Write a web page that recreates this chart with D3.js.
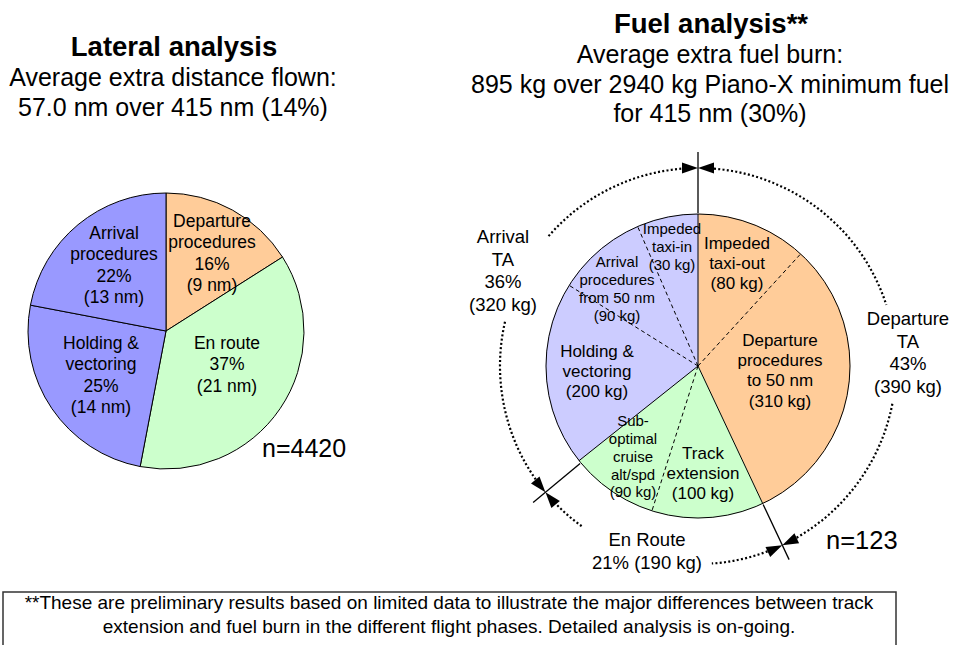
<!DOCTYPE html>
<html>
<head>
<meta charset="utf-8">
<script src="https://d3js.org/d3.v7.min.js"></script>
<style>
body { margin:0; background:#fff; }
svg { display:block; font-family:"Liberation Sans", Arial, sans-serif; }
</style>
</head>
<body>
<div id="chart"></div>
<script>
// ---- lateral analysis (extra distance flown) ----
var lateralNames = ["Departure\nprocedures", "En route", "Holding &\nvectoring", "Arrival\nprocedures"];
var lateralPct = [16, 37, 25, 22];
var lateralNm = [9, 21, 14, 13];
var lateralN = 4420;
var lateralTitle = "Lateral analysis";
var lateralSub = ["Average extra distance flown:", "57.0 nm over 415 nm (14%)"];

// ---- fuel analysis ----
var fuelNames = ["Impeded\ntaxi-out", "Departure\nprocedures\nto 50 nm", "Track\nextension",
    "Sub-\noptimal\ncruise\nalt/spd", "Holding &\nvectoring", "Arrival\nprocedures\nfrom 50 nm", "Impeded\ntaxi-in"];
var fuelKg = [80, 310, 100, 90, 200, 90, 30];
var fuelShare = [11.8, 31.2, 11.9, 9.4, 19.6, 9.6, 6.5]; // slice size as drawn
var fuelPhase = [0, 0, 1, 1, 2, 2, 2];
var phaseNames = ["Departure\nTA", "En Route", "Arrival\nTA"];
var phasePct = [43, 21, 36];
var phaseKg = [390, 190, 320];
var fuelN = 123;
var fuelTitle = "Fuel analysis**";
var fuelSub = ["Average extra fuel burn:", "895 kg over 2940 kg Piano-X minimum fuel", "for 415 nm (30%)"];

var footnote = ["**These are preliminary results based on limited data to illustrate the major differences between track",
    "extension and fuel burn in the different flight phases. Detailed analysis is on-going."];

// ---- layout ----
var W = 953, H = 645;
var lateralColors = ["#ffcc99", "#ccffcc", "#9999ff", "#9999ff"];
var phaseColors = ["#ffcc99", "#ccffcc", "#ccccff"];

var left = {cx:166, cy:331, r:138};
var right = {cx:698, cy:366, r:152, ring:198, tick0:153, tick1:214};

var lateralLabelPos = [[46, -104], [61, 18], [-65, 18], [-52, -92]];
var fuelLabelPos = [[39, -117], [82, -20], [5, 93], [-65, 60], [-101, -9], [-81, -99], [-26, -132]];
var fuelLabelSize = [17, 17, 17, 15, 17, 15, 15];
var phaseLabelPos = [[210, -41], [-51, 180], [-195, -123]];
var phaseGaps = [[72, 101], [176, 216], [283, 311]]; // degrees where the dotted ring is broken for labels

var svg = d3.select("#chart").append("svg")
    .attr("width", W)
    .attr("height", H);

function multiText(g, lines, x, y, size, spacing, weight) {
    var t = g.append("text")
        .attr("text-anchor", "middle")
        .style("font-size", size + "px")
        .style("font-weight", weight || "normal")
        .style("fill", "#000");
    lines.forEach(function(s, i) {
        t.append("tspan")
            .attr("x", x)
            .attr("y", y + i * spacing)
            .text(s);
    });
    return t;
}

// ---- titles ----
multiText(svg, [lateralTitle], 174, 56, 27.5, 30, "bold");
multiText(svg, lateralSub, 173, 86, 25, 30);
multiText(svg, [fuelTitle], 711, 33, 27.5, 30, "bold");
multiText(svg, fuelSub, 710, 63, 25, 29.7);

// ---- left pie ----
var pie = d3.pie().sort(null).value(function(d) { return d; });
var arcL = d3.arc().innerRadius(0).outerRadius(left.r);

var gL = svg.append("g")
    .attr("transform", "translate(" + left.cx + "," + left.cy + ")");

gL.selectAll("path")
    .data(pie(lateralPct))
    .enter().append("path")
    .attr("d", arcL)
    .style("fill", function(d, i) { return lateralColors[i]; })
    .style("stroke", "#000")
    .style("stroke-width", 1);

lateralNames.forEach(function(name, i) {
    var lines = name.split("\n").concat([lateralPct[i] + "%", "(" + lateralNm[i] + " nm)"]);
    multiText(gL, lines, lateralLabelPos[i][0], lateralLabelPos[i][1], 17.5, 21.3);
});

svg.append("text")
    .attr("x", 262)
    .attr("y", 457)
    .style("font-size", "25px")
    .text("n=" + lateralN);

// ---- right pie ----
var arcR = d3.arc().innerRadius(0).outerRadius(right.r);
var fuelArcs = pie(fuelShare);

var gR = svg.append("g")
    .attr("transform", "translate(" + right.cx + "," + right.cy + ")");

gR.selectAll("path.slice")
    .data(fuelArcs)
    .enter().append("path")
    .attr("class", "slice")
    .attr("d", arcR)
    .style("fill", function(d, i) { return phaseColors[fuelPhase[i]]; })
    .style("stroke", function(d, i) { return phaseColors[fuelPhase[i]]; })
    .style("stroke-width", 0.5);

function polar(a, r) {
    return [r * Math.sin(a), -r * Math.cos(a)];
}

// radial boundaries: solid between phases, dashed inside a phase
gR.selectAll("line.edge")
    .data(fuelArcs)
    .enter().append("line")
    .attr("class", "edge")
    .attr("x1", 0).attr("y1", 0)
    .attr("x2", function(d) { return polar(d.startAngle, right.r)[0]; })
    .attr("y2", function(d) { return polar(d.startAngle, right.r)[1]; })
    .style("stroke", "#000")
    .style("stroke-width", 1)
    .style("stroke-dasharray", function(d, i) {
        var prev = fuelPhase[(i + fuelPhase.length - 1) % fuelPhase.length];
        return prev === fuelPhase[i] ? "4,3" : null;
    });

gR.append("circle")
    .attr("r", right.r)
    .style("fill", "none")
    .style("stroke", "#000")
    .style("stroke-width", 1);

fuelNames.forEach(function(name, i) {
    var lines = name.split("\n").concat(["(" + fuelKg[i] + " kg)"]);
    var s = fuelLabelSize[i];
    multiText(gR, lines, fuelLabelPos[i][0], fuelLabelPos[i][1], s, s * 1.19);
});

// ---- phase ring: ticks, arrowheads, dotted arcs ----
var phaseArcs = pie(phasePct);
var rad = Math.PI / 180;
var arrowLen = 16, arrowHalf = 5.5;
var arrowDeg = arrowLen / right.ring / rad;

phaseArcs.forEach(function(p, i) {
    var a = p.startAngle;
    var t0 = polar(a, right.tick0), t1 = polar(a, right.tick1);
    gR.append("line")
        .attr("x1", t0[0]).attr("y1", t0[1])
        .attr("x2", t1[0]).attr("y2", t1[1])
        .style("stroke", "#000")
        .style("stroke-width", 1.3);

    // two arrowheads meeting on the tick
    [1, -1].forEach(function(dir) {
        var tip = polar(a, right.ring);
        var tx = Math.cos(a) * dir, ty = Math.sin(a) * dir;   // tangent
        var nx = Math.sin(a), ny = -Math.cos(a);               // radial
        var bx = tip[0] + tx * arrowLen, by = tip[1] + ty * arrowLen;
        var pts = [tip, [bx + nx * arrowHalf, by + ny * arrowHalf], [bx - nx * arrowHalf, by - ny * arrowHalf]];
        gR.append("path")
            .attr("d", "M" + pts.join("L") + "Z")
            .style("fill", "#000");
    });

    // dotted arc, broken where the label sits
    var a0 = p.startAngle / rad + arrowDeg, a1 = p.endAngle / rad - arrowDeg;
    var segs = [[a0, phaseGaps[i][0]], [phaseGaps[i][1], a1]];
    segs.forEach(function(s) {
        var path = d3.path();
        var st = polar(s[0] * rad, right.ring);
        path.moveTo(st[0], st[1]);
        path.arc(0, 0, right.ring, s[0] * rad - Math.PI / 2, s[1] * rad - Math.PI / 2);
        gR.append("path")
            .attr("d", path.toString())
            .style("fill", "none")
            .style("stroke", "#000")
            .style("stroke-width", 2.2)
            .style("stroke-dasharray", "2,2.3");
    });

    var lines = phaseNames[i].split("\n");
    if (lines.length > 1) {
        lines = lines.concat([phasePct[i] + "%", "(" + phaseKg[i] + " kg)"]);
    } else {
        lines = lines.concat([phasePct[i] + "% (" + phaseKg[i] + " kg)"]);
    }
    multiText(gR, lines, phaseLabelPos[i][0], phaseLabelPos[i][1], 18.5, 22.6);
});

svg.append("text")
    .attr("x", 826)
    .attr("y", 549)
    .style("font-size", "25.5px")
    .text("n=" + fuelN);

// ---- footnote box ----
svg.append("rect")
    .attr("x", 3)
    .attr("y", 592)
    .attr("width", 893)
    .attr("height", 80)
    .style("fill", "none")
    .style("stroke", "#333")
    .style("stroke-width", 1.5);

multiText(svg, footnote, 449, 609, 19, 24);
</script>
</body>
</html>
